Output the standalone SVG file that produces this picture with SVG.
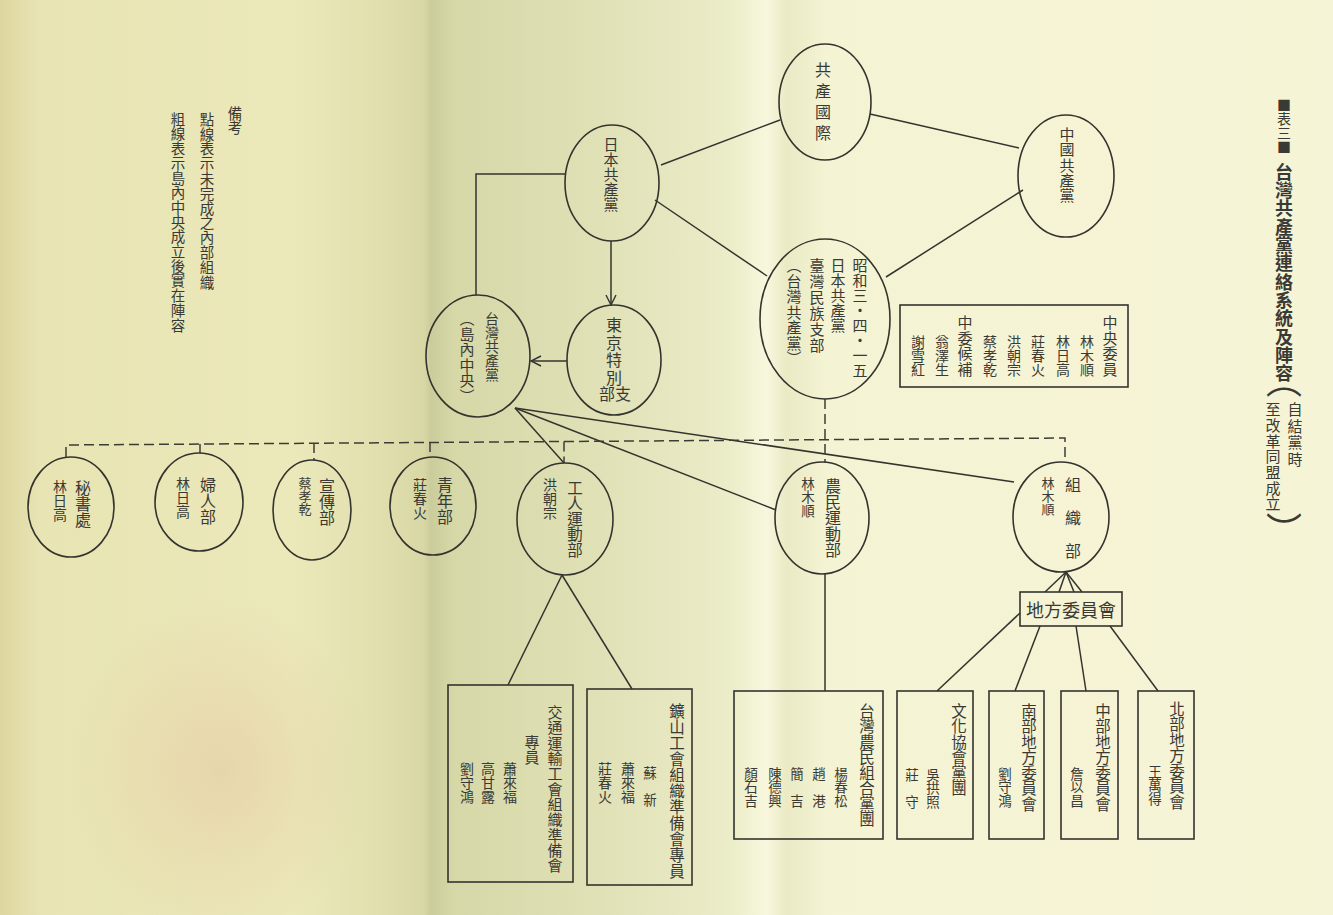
<svg xmlns="http://www.w3.org/2000/svg" width="1333" height="915" viewBox="0 0 1333 915">
<defs>
<linearGradient id="paper" x1="0" y1="0" x2="1" y2="0">
<stop offset="0" stop-color="#ddd6a0"/>
<stop offset="0.03" stop-color="#e8e4b3"/>
<stop offset="0.22" stop-color="#ebe8ba"/>
<stop offset="0.28" stop-color="#e2e0af"/>
<stop offset="0.318" stop-color="#d8d7a6"/>
<stop offset="0.323" stop-color="#cbcc9c"/>
<stop offset="0.34" stop-color="#d6d8a8"/>
<stop offset="0.45" stop-color="#e0e1b6"/>
<stop offset="0.55" stop-color="#ecedc9"/>
<stop offset="0.575" stop-color="#f8f7de"/>
<stop offset="0.59" stop-color="#ebeac5"/>
<stop offset="0.62" stop-color="#f4f3d3"/>
<stop offset="1" stop-color="#f6f4d6"/>
</linearGradient>
<radialGradient id="blot" cx="0.5" cy="0.5" r="0.5">
<stop offset="0" stop-color="#e6cfa6" stop-opacity="0.7"/>
<stop offset="1" stop-color="#e6cfa6" stop-opacity="0"/>
</radialGradient>
<marker id="arr" viewBox="0 0 12 12" refX="11" refY="6" markerWidth="12" markerHeight="12" markerUnits="userSpaceOnUse" orient="auto">
<path d="M1,1 L11,6 L1,11" fill="none" stroke="#333" stroke-width="1.4"/>
</marker>
</defs>
<style>
.ln{fill:none;stroke:#34342f;stroke-width:1.5}
.dsh{fill:none;stroke:#3c3c36;stroke-width:1.5;stroke-dasharray:10 5}
.nd{fill:none;stroke:#34342f;stroke-width:1.6}
text{font-family:"Noto Sans CJK TC","Noto Sans CJK SC",sans-serif;fill:#3a3a35}
.v{writing-mode:vertical-rl}
</style>
<rect x="0" y="0" width="1333" height="915" fill="url(#paper)"/>
<ellipse cx="220" cy="770" rx="150" ry="170" fill="url(#blot)"/>

<g id="title">
<text class="v" x="1284" y="98" font-size="14">■表三■</text>
<text class="v" x="1284" y="163" font-size="18" font-weight="bold" letter-spacing="0.3">台灣共產黨連絡系統及陣容</text>
<text class="v" x="1284" y="362" font-size="36">（</text>
<text class="v" x="1295" y="402" font-size="15" letter-spacing="1.5">自結黨時</text>
<text class="v" x="1273" y="402" font-size="15" letter-spacing="0.7">至改革同盟成立</text>
<text class="v" x="1284" y="512" font-size="36">）</text>
</g>

<g id="legend">
<text class="v" x="235" y="106" font-size="14.5">備考</text>
<text class="v" x="207" y="112" font-size="14.5" letter-spacing="0.3">點線表示未完成之內部組織</text>
<text class="v" x="178" y="112" font-size="14.5" letter-spacing="0.2">粗線表示島內中央成立後實在陣容</text>
</g>

<g id="connectors">
<line class="ln" x1="661" y1="165" x2="780" y2="120"/>
<line class="ln" x1="870" y1="114" x2="1019" y2="148"/>
<line class="ln" x1="655" y1="200" x2="767" y2="276"/>
<line class="ln" x1="1023" y1="190" x2="886" y2="277"/>
<line class="ln" x1="611" y1="241" x2="611" y2="305" marker-end="url(#arr)"/>
<polyline class="ln" points="565,174 476,174 476,295"/>
<line class="ln" x1="567" y1="361" x2="531" y2="361" marker-end="url(#arr)"/>
<line class="ln" x1="515" y1="408" x2="564" y2="463"/>
<line class="ln" x1="515" y1="408" x2="776" y2="510"/>
<line class="ln" x1="515" y1="408" x2="1014" y2="482"/>
<polyline class="dsh" points="66,457 66,445 1065,438 1065,462"/>
<line class="dsh" x1="200" y1="444" x2="200" y2="453"/>
<line class="dsh" x1="314" y1="443" x2="314" y2="460"/>
<line class="dsh" x1="430" y1="442" x2="430" y2="457"/>
<line class="dsh" x1="564" y1="441.5" x2="564" y2="463"/>
<line class="dsh" x1="825" y1="399" x2="825" y2="462"/>
<line class="ln" x1="562" y1="575" x2="508" y2="685"/>
<line class="ln" x1="562" y1="575" x2="632" y2="689"/>
<line class="ln" x1="825" y1="574" x2="825" y2="691"/>
<line class="ln" x1="1066" y1="572" x2="1045" y2="592"/>
<line class="ln" x1="1066" y1="572" x2="1059" y2="592"/>
<line class="ln" x1="1066" y1="572" x2="1074" y2="592"/>
<line class="ln" x1="1066" y1="572" x2="1082" y2="592"/>
<line class="ln" x1="1020" y1="613" x2="937" y2="691"/>
<line class="ln" x1="1040" y1="626" x2="1015" y2="691"/>
<line class="ln" x1="1076" y1="626" x2="1086" y2="691"/>
<line class="ln" x1="1110" y1="626" x2="1158" y2="691"/>
</g>

<g id="comintern">
<ellipse class="nd" cx="825" cy="102" rx="46" ry="58"/>
<text class="v" x="823" y="62" font-size="16" letter-spacing="5">共產國際</text>
</g>
<g id="jcp">
<ellipse class="nd" cx="612" cy="183" rx="47" ry="58"/>
<text class="v" x="611" y="137" font-size="15">日本共產黨</text>
</g>
<g id="ccp">
<ellipse class="nd" cx="1066" cy="176" rx="48" ry="61"/>
<text class="v" x="1067" y="127" font-size="15" letter-spacing="0.2">中國共產黨</text>
</g>
<g id="tw-branch">
<ellipse class="nd" cx="825" cy="319" rx="65" ry="80"/>
<text class="v" x="860" y="258" font-size="15">昭和三・四・一五</text>
<text class="v" x="838" y="258" font-size="15">日本共產黨</text>
<text class="v" x="817" y="258" font-size="15" letter-spacing="1">臺灣民族支部</text>
<text class="v" x="794" y="258" font-size="15" letter-spacing="0.5">（台灣共產黨）</text>
</g>
<g id="committee">
<rect class="nd" x="900" y="305" width="228" height="82"/>
<text class="v" x="1110" y="315" font-size="15" letter-spacing="0.5">中央委員</text>
<text class="v" x="1087" y="335" font-size="14">林木順</text>
<text class="v" x="1063" y="335" font-size="14">林日高</text>
<text class="v" x="1038" y="335" font-size="14">莊春火</text>
<text class="v" x="1014" y="335" font-size="14">洪朝宗</text>
<text class="v" x="990" y="335" font-size="14">蔡孝乾</text>
<text class="v" x="965" y="315" font-size="15" letter-spacing="0.5">中委候補</text>
<text class="v" x="942" y="335" font-size="14">翁澤生</text>
<text class="v" x="918" y="335" font-size="14">謝雪紅</text>
</g>
<g id="tokyo">
<ellipse class="nd" cx="614" cy="360" rx="47" ry="55"/>
<text class="v" x="614" y="317" font-size="16" letter-spacing="1.5">東京特別</text>
<text x="615" y="393" font-size="16" text-anchor="middle" dominant-baseline="central">部支</text>
</g>
<g id="tcp">
<ellipse class="nd" cx="478" cy="356" rx="52" ry="61"/>
<text class="v" x="492" y="312" font-size="14">台灣共產黨</text>
<text class="v" x="467" y="311" font-size="15" letter-spacing="0.5">（島內中央）</text>
</g>
<g id="secretariat">
<ellipse class="nd" cx="71" cy="507" rx="43" ry="50"/>
<text class="v" x="83" y="480" font-size="16">秘書處</text>
<text class="v" x="60" y="480" font-size="14">林日高</text>
</g>
<g id="women">
<ellipse class="nd" cx="199" cy="502" rx="44" ry="49"/>
<text class="v" x="208" y="477" font-size="16">婦人部</text>
<text class="v" x="183" y="477" font-size="14">林日高</text>
</g>
<g id="propaganda">
<ellipse class="nd" cx="312" cy="510" rx="39" ry="50"/>
<text class="v" x="327" y="478" font-size="16">宣傳部</text>
<text class="v" x="305" y="477" font-size="13">蔡孝乾</text>
</g>
<g id="youth">
<ellipse class="nd" cx="433" cy="506" rx="43" ry="49"/>
<text class="v" x="445" y="477" font-size="16">青年部</text>
<text class="v" x="420" y="478" font-size="14">莊春火</text>
</g>
<g id="labor">
<ellipse class="nd" cx="565" cy="519" rx="48" ry="56"/>
<text class="v" x="575" y="480" font-size="15.5">工人運動部</text>
<text class="v" x="550" y="478" font-size="14">洪朝宗</text>
</g>
<g id="peasant">
<ellipse class="nd" cx="822" cy="518" rx="47" ry="56"/>
<text class="v" x="833" y="478" font-size="16">農民運動部</text>
<text class="v" x="808" y="477" font-size="13.5">林木順</text>
</g>
<g id="organization">
<ellipse class="nd" cx="1061" cy="517" rx="48" ry="55"/>
<text class="v" x="1073" y="477" font-size="16" letter-spacing="17">組織部</text>
<text class="v" x="1048" y="477" font-size="13">林木順</text>
</g>
<g id="local-committee">
<rect class="nd" x="1020" y="592" width="102" height="34"/>
<text x="1071" y="609" font-size="18" text-anchor="middle" dominant-baseline="central">地方委員會</text>
</g>
<g id="transport">
<rect class="nd" x="448" y="685" width="125" height="197"/>
<text class="v" x="555" y="705" font-size="15" letter-spacing="0.3">交通運輸工會組織準備會</text>
<text class="v" x="532" y="735" font-size="15">專員</text>
<text class="v" x="510" y="762" font-size="14">蕭來福</text>
<text class="v" x="488" y="762" font-size="14">高甘露</text>
<text class="v" x="467" y="762" font-size="14">劉守鴻</text>
</g>
<g id="mining">
<rect class="nd" x="587" y="689" width="105" height="196"/>
<text class="v" x="677" y="703" font-size="15.5" letter-spacing="0.5">鑛山工會組織準備會專員</text>
<text class="v" x="650" y="766" font-size="13.5">蘇　新</text>
<text class="v" x="628" y="762" font-size="14">蕭來福</text>
<text class="v" x="605" y="762" font-size="14">莊春火</text>
</g>
<g id="farmers-union">
<rect class="nd" x="734" y="691" width="149" height="148"/>
<text class="v" x="867" y="703" font-size="15.5">台灣農民組合黨團</text>
<text class="v" x="841" y="767" font-size="13.5">楊春松</text>
<text class="v" x="819" y="767" font-size="13.5">趙　港</text>
<text class="v" x="797" y="767" font-size="13.5">簡　吉</text>
<text class="v" x="775" y="767" font-size="13.5">陳德興</text>
<text class="v" x="751" y="767" font-size="13.5">顏石吉</text>
</g>
<g id="cultural">
<rect class="nd" x="897" y="691" width="76" height="148"/>
<text class="v" x="959" y="703" font-size="15.5">文化協會黨團</text>
<text class="v" x="933" y="768" font-size="13.5">吳拱照</text>
<text class="v" x="912" y="768" font-size="13.5">莊　守</text>
</g>
<g id="south">
<rect class="nd" x="989" y="691" width="55" height="148"/>
<text class="v" x="1029" y="703" font-size="15.5">南部地方委員會</text>
<text class="v" x="1005" y="767" font-size="13.5">劉守鴻</text>
</g>
<g id="central">
<rect class="nd" x="1061" y="691" width="57" height="148"/>
<text class="v" x="1103" y="703" font-size="15.5">中部地方委員會</text>
<text class="v" x="1077" y="767" font-size="13.5">詹以昌</text>
</g>
<g id="north">
<rect class="nd" x="1138" y="691" width="56" height="148"/>
<text class="v" x="1177" y="701" font-size="15.5">北部地方委員會</text>
<text class="v" x="1155" y="765" font-size="13.5">王萬得</text>
</g>
</svg>
